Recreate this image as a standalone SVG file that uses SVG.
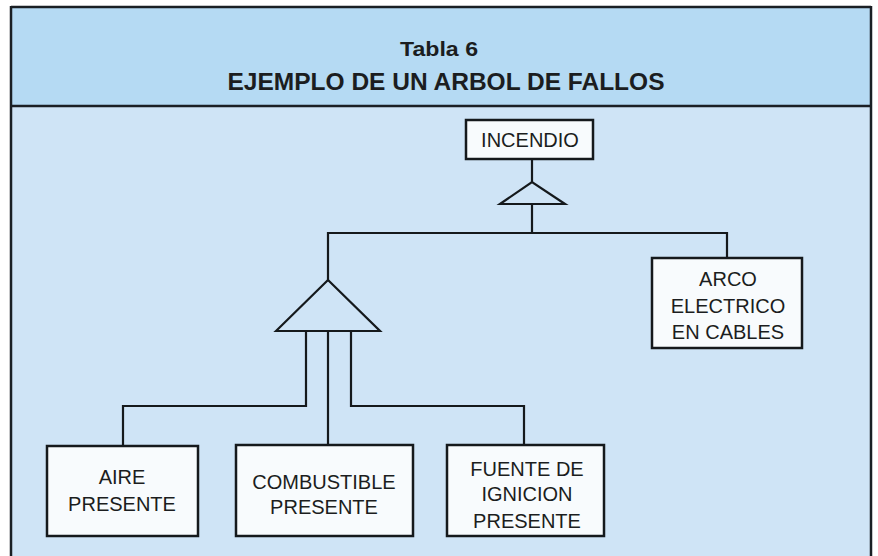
<svg xmlns="http://www.w3.org/2000/svg" width="878" height="556" viewBox="0 0 878 556">
<style>
.frame{stroke:#1a1f24;stroke-width:2.5;fill:none}
.box rect{fill:#f8fbfd;stroke:#15191c;stroke-width:2.5}
.box text{font-family:"Liberation Sans",Arial,sans-serif;font-size:20px;fill:#1b1d20;text-anchor:middle}
.hdr{font-family:"Liberation Sans",Arial,sans-serif;font-weight:bold;fill:#1b1d20;text-anchor:middle}
#connectors path, #connectors line{stroke:#15191c;stroke-width:2.2;fill:none}
.gate{fill:none;stroke:#15191c;stroke-width:2.8;stroke-linejoin:miter}
</style>
<rect width="878" height="556" fill="#ffffff"/>
<rect x="11" y="106" width="860" height="450" fill="#cfe4f6"/>
<rect x="11" y="7" width="860" height="99" fill="#b5daf3"/>
<g id="frame">
<line class="frame" x1="11" y1="7" x2="871" y2="7"/>
<line class="frame" x1="11" y1="6" x2="11" y2="556"/>
<line class="frame" x1="871" y1="6" x2="871" y2="556"/>
<line class="frame" x1="11" y1="106" x2="871" y2="106"/>
</g>
<g id="header">
<text class="hdr" x="439" y="56" font-size="21" textLength="78" lengthAdjust="spacingAndGlyphs">Tabla 6</text>
<text class="hdr" x="446" y="90" font-size="23" textLength="437" lengthAdjust="spacingAndGlyphs">EJEMPLO DE UN ARBOL DE FALLOS</text>
</g>
<g id="connectors">
<line x1="532" y1="159" x2="532" y2="182"/>
<path class="gate" d="M500,204 L532,182 L565,204 Z"/>
<line x1="532" y1="204" x2="532" y2="233"/>
<path d="M328,280 L328,233 L727,233 L727,258"/>
<path class="gate" d="M276,331 L328,280 L380,331 Z"/>
<path d="M306,331 L306,406 L123,406 L123,446"/>
<line x1="328" y1="331" x2="328" y2="445"/>
<path d="M351,331 L351,406 L524,406 L524,445"/>
</g>
<g id="incendio" class="box">
<rect x="466" y="120" width="127" height="39"/>
<text x="530" y="147">INCENDIO</text>
</g>
<g id="arco" class="box">
<rect x="652" y="258" width="150" height="90"/>
<text x="728" y="286">ARCO</text>
<text x="728" y="313">ELECTRICO</text>
<text x="728" y="339">EN CABLES</text>
</g>
<g id="aire" class="box">
<rect x="47" y="446" width="151" height="90"/>
<text x="122" y="484">AIRE</text>
<text x="122" y="511">PRESENTE</text>
</g>
<g id="combustible" class="box">
<rect x="236" y="445" width="177" height="91"/>
<text x="324" y="489">COMBUSTIBLE</text>
<text x="324" y="514">PRESENTE</text>
</g>
<g id="fuente" class="box">
<rect x="447" y="445" width="157" height="91"/>
<text x="527" y="476">FUENTE DE</text>
<text x="527" y="501">IGNICION</text>
<text x="527" y="528">PRESENTE</text>
</g>
</svg>
